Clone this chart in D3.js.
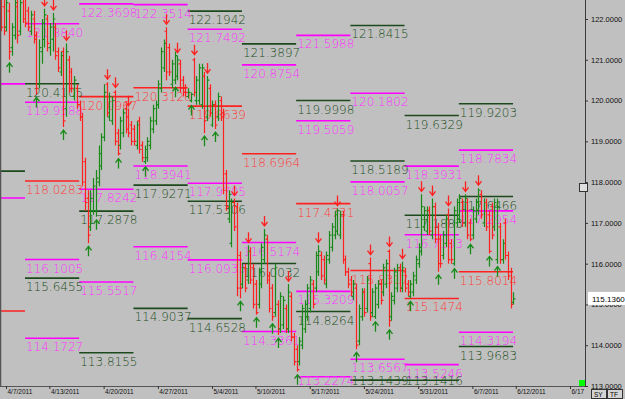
<!DOCTYPE html>
<html>
<head>
<meta charset="utf-8">
<script src="https://cdn.jsdelivr.net/npm/d3@7"></script>
<style>
  body { margin: 0; background: #c0c0c0; }
  svg { display: block; }
  .lvl { font-family: "DejaVu Sans", sans-serif; font-weight: 200; font-size: 12px; }
  .ax text { font-family: "Liberation Sans", Arial, sans-serif; font-size: 7.5px; fill: #111; }
  .xax text { font-size: 6.5px; }
</style>
</head>
<body>
<svg width="625" height="399"></svg>
<script>
// OHLC bars, 4 per trading day
const opens = [122.4,122.3,121.8,122.2,121.3,121.6,122.3,121.7,122.5,122.6,
  122.2,121.7,122.0,121.6,120.4,121.2,121.5,122.0,121.3,121.5,
  121.8,121.2,120.7,121.2,119.8,121.0,120.7,120.1,120.3,119.9,
  119.6,118.5,117.6,116.9,117.3,117.3,118.0,118.4,119.1,120.4,
  119.6,119.5,120.2,119.2,118.9,119.2,119.8,119.6,119.4,119.3,
  118.9,119.5,118.9,118.5,118.6,118.9,119.3,119.5,119.9,120.3,
  120.8,121.7,121.3,120.4,120.5,120.6,120.9,120.5,120.3,120.1,
  120.0,121.0,120.0,120.0,119.9,120.6,119.6,120.3,119.4,119.9,
  119.6,120.0,119.7,118.2,117.1,116.5,117.5,117.4,116.2,115.5,
  115.9,115.6,116.3,115.9,115.5,115.0,115.5,116.1,116.6,115.7,
  115.4,114.8,115.0,114.4,114.5,114.9,114.4,115.2,114.2,113.9,
  113.6,114.0,114.4,114.7,114.9,115.5,115.4,115.8,116.2,116.1,
  115.5,116.1,116.4,116.7,116.8,116.7,117.2,116.1,115.8,115.6,
  115.2,115.4,114.1,114.7,115.3,114.9,116.0,114.8,114.7,115.0,
  115.5,115.3,115.5,116.3,114.7,115.1,115.4,115.9,115.4,115.8,
  115.5,115.2,115.3,115.6,116.0,116.3,116.9,116.8,117.3,116.7,
  117.4,116.9,116.6,116.2,116.5,117.2,116.5,116.0,117.0,117.1,
  117.5,117.0,117.5,117.0,116.7,117.1,117.3,117.7,117.0,117.5,
  117.2,117.4,116.9,116.1,116.9,116.1,117.0,116.2,115.8,115.05]
const highs = [122.6,122.5,122.6,122.4,121.9,122.6,122.5,122.6,122.7,122.7,
  122.3,122.2,122.2,121.7,121.5,122.0,122.25,122.1,121.9,122.15,
  121.9,121.3,121.2,121.3,121.4,121.1,120.8,120.6,120.4,120.0,
  119.7,118.6,117.8,117.8,118.1,118.3,118.9,119.2,120.4,120.45,
  120.2,120.1,120.25,119.3,119.6,119.8,119.9,119.8,119.5,119.4,
  119.5,119.6,119.0,118.9,119.1,119.6,119.9,120.0,120.5,121.3,
  121.5,121.8,121.4,121.0,121.2,121.1,121.0,120.6,120.4,120.3,
  120.2,121.05,120.6,120.9,120.9,120.7,120.6,120.4,120.0,120.0,
  120.2,120.1,119.8,118.3,117.8,117.6,117.6,117.5,116.3,116.0,
  116.0,116.45,116.4,116.0,115.6,115.9,116.5,116.85,116.7,115.8,
  115.5,116.0,115.1,115.3,115.2,115.0,115.5,115.3,114.3,114.0,
  114.2,115.0,115.1,115.5,115.7,115.6,116.3,116.45,116.3,116.2,
  116.3,116.8,117.0,117.3,117.35,117.3,117.3,116.2,115.9,115.7,
  115.6,115.5,115.0,115.4,115.4,115.7,116.15,115.4,115.5,115.6,
  115.6,116.0,116.1,116.35,115.3,115.9,116.0,116.0,116.05,115.9,
  115.6,115.6,115.8,116.2,116.5,117.7,117.4,117.4,117.4,117.6,
  117.5,117.0,116.7,116.8,117.2,117.35,116.6,117.4,117.6,117.7,
  117.6,117.7,117.6,117.1,117.4,117.6,117.85,117.8,117.6,117.6,
  117.3,117.5,117.6,117.6,117.0,116.6,117.1,116.3,115.9,115.3]
const lows = [121.7,121.6,121.7,121.0,121.1,121.5,121.4,121.6,121.9,121.8,
  121.7,121.6,121.4,120.15,120.3,120.9,121.3,121.2,121.1,121.2,
  121.0,120.7,120.6,119.35,119.6,120.2,120.2,120.0,119.8,119.5,
  117.9,117.3,116.5,116.8,117.2,117.15,117.9,118.3,119.0,119.6,
  119.5,119.4,118.9,118.65,118.8,119.1,119.2,119.1,118.9,118.9,
  118.8,118.7,118.5,118.45,118.5,118.8,119.2,119.4,119.8,120.2,
  120.7,120.5,120.6,120.3,120.4,120.5,120.2,120.1,120.1,120.05,
  119.95,120.1,119.9,119.9,119.8,119.2,119.5,119.6,119.35,119.3,
  119.5,119.5,117.7,117.3,117.0,116.4,116.8,115.2,115.15,115.4,
  115.3,115.5,115.5,114.9,114.75,114.9,115.4,116.0,115.5,114.8,
  114.6,114.7,114.25,114.3,114.4,114.3,114.3,114.1,113.5,113.35,
  113.5,113.9,114.3,114.6,114.8,114.9,115.3,115.7,115.6,115.5,
  115.4,116.0,116.3,116.6,116.7,116.6,116.0,115.7,115.4,115.2,
  115.1,113.9,114.0,114.6,114.7,114.8,114.6,114.7,114.65,114.9,
  115.0,115.2,115.4,114.45,114.6,115.0,115.3,115.3,115.3,115.3,
  115.2,115.15,115.2,115.5,115.9,116.2,116.8,116.7,116.7,116.6,
  116.5,115.8,115.9,116.1,116.4,116.0,116.0,115.95,116.9,117.0,
  116.9,116.9,116.6,116.55,116.6,117.0,117.2,117.1,116.9,116.8,
  116.25,116.6,116.8,116.0,116.0,116.0,116.1,115.6,114.9,115.0]
const closes = [121.8,121.7,122.4,121.2,121.8,122.4,121.6,122.4,122.0,121.9,
  121.8,122.1,121.5,120.3,121.3,121.9,122.1,121.4,121.8,122.0,
  121.1,120.8,121.1,119.5,121.2,120.3,120.3,120.5,119.9,119.6,
  118.0,117.5,116.7,117.6,117.9,118.1,118.7,119.1,120.2,119.7,
  120.1,120.0,119.0,118.7,119.5,119.7,119.3,119.2,119.0,119.0,
  119.4,118.8,118.6,118.8,119.0,119.5,119.8,119.9,120.4,121.2,
  121.4,120.7,120.7,120.9,121.1,121.0,120.3,120.2,120.2,120.2,
  120.15,120.2,120.5,120.8,120.8,119.5,120.5,119.7,119.9,119.4,
  120.1,119.6,117.8,117.4,117.7,117.5,116.9,115.4,115.4,115.9,
  115.4,116.3,115.6,115.0,114.8,115.8,116.4,116.7,115.6,114.9,
  114.7,115.9,114.4,115.2,115.1,114.4,115.3,114.2,113.6,113.4,
  114.1,114.9,115.0,115.4,115.6,115.0,116.2,116.3,115.7,115.6,
  116.2,116.7,116.9,117.2,117.3,117.2,116.1,115.8,115.5,115.3,
  115.5,114.0,114.9,115.3,114.8,115.6,114.7,115.3,115.4,115.5,
  115.1,115.9,116.0,114.6,115.2,115.8,115.9,115.4,115.9,115.4,
  115.3,115.5,115.7,116.1,116.4,117.4,117.3,117.3,116.8,117.4,
  116.6,116.0,116.0,116.7,117.1,116.1,116.1,117.3,117.5,117.6,
  117.0,117.6,116.7,116.6,117.3,117.5,117.8,117.2,117.5,116.9,
  116.3,116.7,117.5,117.4,116.1,116.5,116.2,115.7,115.0,115.136]

// swing markers (bar indices)
const upArrows = [3,13,23,32,35,43,53,64,70,75,79,88,94,100,102,109,131,138,143,151,161,167,173,180,183]
const downArrows = [16,19,24,39,42,47,61,65,71,76,86,91,97,106,117,124,136,143,148,155,159,165,171,176]

// weekly levels: week number, value, kind (m magenta, g green, r red)
const levelWeeks = [-1,-1,-1,-1,
  0,0,0,0,0,0,0,
  1,1,1,1,1,1,
  2,2,2,2,2,2,
  3,3,3,3,3,3,3,
  4,4,4,4,4,4,
  5,5,5,5,5,5,5,
  6,6,6,6,6,6,6,
  7,7,7,7,7,7,7,
  8,8,8,8,8,8,8]
const levelValues = [120.41,118.27,117.61,114.84,
  121.8840,120.4105,119.9588,118.0283,116.1005,115.6455,114.1727,
  122.3698,120.0967,117.8242,117.2878,115.5517,113.8155,
  122.3514,120.3128,118.3941,117.9271,116.4154,114.9037,
  122.1942,121.7492,119.8639,117.9705,117.5306,116.0933,114.6528,
  121.3897,120.8754,118.6964,116.5174,116.0032,114.3361,
  121.5988,119.9998,119.5059,117.4731,115.3209,114.8264,113.2274,
  121.8415,120.1802,118.5189,118.0057,115.8317,113.6567,113.1439,
  119.6329,118.3931,117.1883,116.7103,115.1474,113.5246,113.1416,
  119.9203,118.7834,117.6466,117.2954,115.8014,114.3194,113.9683]
const levelKinds = ['m','g','m','r',
  'm','g','m','r','m','g','m',
  'm','r','m','g','m','g',
  'm','r','m','g','m','g',
  'g','m','r','m','g','m','g',
  'g','m','r','m','g','m',
  'm','g','m','r','m','g','m',
  'g','m','g','m','r','m','g',
  'g','m','g','m','r','m','g',
  'g','m','g','m','r','m','g']

const dayTicks = [0,4,9,14,19,23,28,33,38,43,47,52]
const dayLabels = ['4/7/2011','4/13/2011','4/20/2011','4/27/2011','5/4/2011','5/10/2011',
  '5/17/2011','5/24/2011','5/31/2011','6/7/2011','6/12/2011','6/17/2011']
const yTicks = [113,114,115,116,117,118,119,120,121,122]
const lastPrice = 115.1360

const svg = d3.select('svg')
const plotRight = 585, plotBottom = 386

const y = d3.scaleLinear().domain([113, 122]).range([386, 19])
const x = d3.scaleLinear().domain([0, 52]).range([6, 570])
const barDay = i => (i - 1.85) / 4
const weekStart = k => 1.75 + 5 * k

const lineColor = {m: '#ff00ff', g: '#1d4a1d', r: '#ff2020'}
const textColor = {m: '#ff30ff', g: '#224f22', r: '#ff3a3a'}
const up = '#198a19', down = '#ff2020'

const defs = svg.append('defs')
defs.append('clipPath').attr('id', 'plot')
  .append('rect').attr('x', 1).attr('y', 0).attr('width', plotRight - 1).attr('height', plotBottom)

const plot = svg.append('g').attr('clip-path', 'url(#plot)')

// levels
let levels = levelValues.map((v, i) => ({v: v, w: levelWeeks[i], k: levelKinds[i]}))
plot.append('g').selectAll('line')
  .data(levels)
  .join('line')
  .attr('x1', d => x(weekStart(d.w)))
  .attr('x2', d => x(weekStart(d.w + 1)))
  .attr('y1', d => y(d.v))
  .attr('y2', d => y(d.v))
  .attr('stroke', d => lineColor[d.k])
  .attr('stroke-width', 1.6)

// labels that would hang below the axis are lifted just enough to stay inside
plot.append('g').attr('class', 'lvl').selectAll('text')
  .data(levels.filter(d => d.w >= 0))
  .join('text')
  .attr('x', d => x(weekStart(d.w)) + 1)
  .attr('y', d => Math.min(y(d.v) + 13, plotBottom - 1))
  .attr('fill', d => textColor[d.k])
  .text(d => d.v.toFixed(4))

// bars
let bars = opens.map((o, i) => ({i: i, o: o, h: highs[i], l: lows[i], c: closes[i]}))
plot.append('g').selectAll('path')
  .data(bars)
  .join('path')
  .attr('d', d => {
    let cx = Math.round(x(barDay(d.i))) + 0.5
    return `M${cx},${y(d.h)}V${y(d.l)}M${cx - 2},${y(d.o)}H${cx}M${cx},${y(d.c)}H${cx + 2}`
  })
  .attr('fill', 'none')
  .attr('stroke', d => d.c >= d.o ? up : down)
  .attr('stroke-width', 1.2)

// arrows
plot.append('g').selectAll('path')
  .data(upArrows)
  .join('path')
  .attr('d', i => {
    let cx = Math.round(x(barDay(i))) + 0.5, t = y(lows[i]) + 3
    return `M${cx - 3},${t + 4}L${cx},${t}L${cx + 3},${t + 4}M${cx},${t}V${t + 10}`
  })
  .attr('fill', 'none').attr('stroke', up).attr('stroke-width', 1.3)

plot.append('g').selectAll('path')
  .data(downArrows)
  .join('path')
  .attr('d', i => {
    let cx = Math.round(x(barDay(i))) + 0.5, t = y(highs[i]) - 3
    return `M${cx - 3},${t - 4}L${cx},${t}L${cx + 3},${t - 4}M${cx},${t}V${t - 10}`
  })
  .attr('fill', 'none').attr('stroke', down).attr('stroke-width', 1.3)

// frame
svg.append('line').attr('x1', 0.5).attr('x2', 0.5).attr('y1', 0).attr('y2', plotBottom)
  .attr('stroke', '#555').attr('stroke-width', 1.5)
svg.append('line').attr('x1', plotRight + 0.5).attr('x2', plotRight + 0.5).attr('y1', 0).attr('y2', plotBottom)
  .attr('stroke', '#3a3a3a')
svg.append('line').attr('x1', 0).attr('x2', plotRight).attr('y1', plotBottom + 0.5).attr('y2', plotBottom + 0.5)
  .attr('stroke', '#555')

// y axis
const yAxis = svg.append('g').attr('class', 'ax')
  .attr('transform', `translate(${plotRight},0)`)
  .call(d3.axisRight(y).tickValues(yTicks).tickSize(3).tickFormat(d3.format('.4f')))
yAxis.select('.domain').remove()
yAxis.selectAll('line').attr('stroke', '#333')

// x axis, the last label is cut at the price panel like in the source
const xAxis = svg.append('g').attr('class', 'ax xax')
  .attr('transform', `translate(0,${plotBottom})`)
  .call(d3.axisBottom(x).tickValues(dayTicks).tickSize(3).tickFormat((d, i) => dayLabels[i]))
xAxis.select('.domain').remove()
xAxis.selectAll('line').attr('stroke', '#333')
xAxis.selectAll('text').attr('text-anchor', 'start').attr('x', 1).attr('y', 3)
  .each(function(d) {
    let t = d3.select(this), s = t.text()
    while (s.length > 1 && x(d) + 1 + this.getComputedTextLength() > plotRight) {
      s = s.slice(0, -1)
      t.text(s)
    }
  })

// last price tag
svg.append('rect').attr('x', 588).attr('y', y(lastPrice) - 7).attr('width', 37).attr('height', 13)
  .attr('fill', '#fff')
svg.append('text').attr('x', 592).attr('y', y(lastPrice) + 3)
  .style('font-family', 'Liberation Sans, Arial, sans-serif').style('font-size', '8px')
  .text(lastPrice.toFixed(4))

// small widgets
svg.append('rect').attr('x', 579.5).attr('y', 183.5).attr('width', 8).attr('height', 8)
  .attr('fill', '#e0e0e0').attr('stroke', '#333')
svg.append('rect').attr('x', 579).attr('y', 380).attr('width', 6).attr('height', 6).attr('fill', '#00ff00')
const btn = svg.append('g').style('font-family', 'Liberation Sans, Arial, sans-serif').style('font-size', '6.5px')
;['SY', 'TF'].forEach((t, i) => {
  btn.append('rect').attr('x', 591.5 + i * 16).attr('y', 389.5).attr('width', 15).attr('height', 9)
    .attr('fill', '#d4d4d4').attr('stroke', '#333')
  btn.append('text').attr('x', 594 + i * 16).attr('y', 396.5).text(t)
})
</script>
</body>
</html>
